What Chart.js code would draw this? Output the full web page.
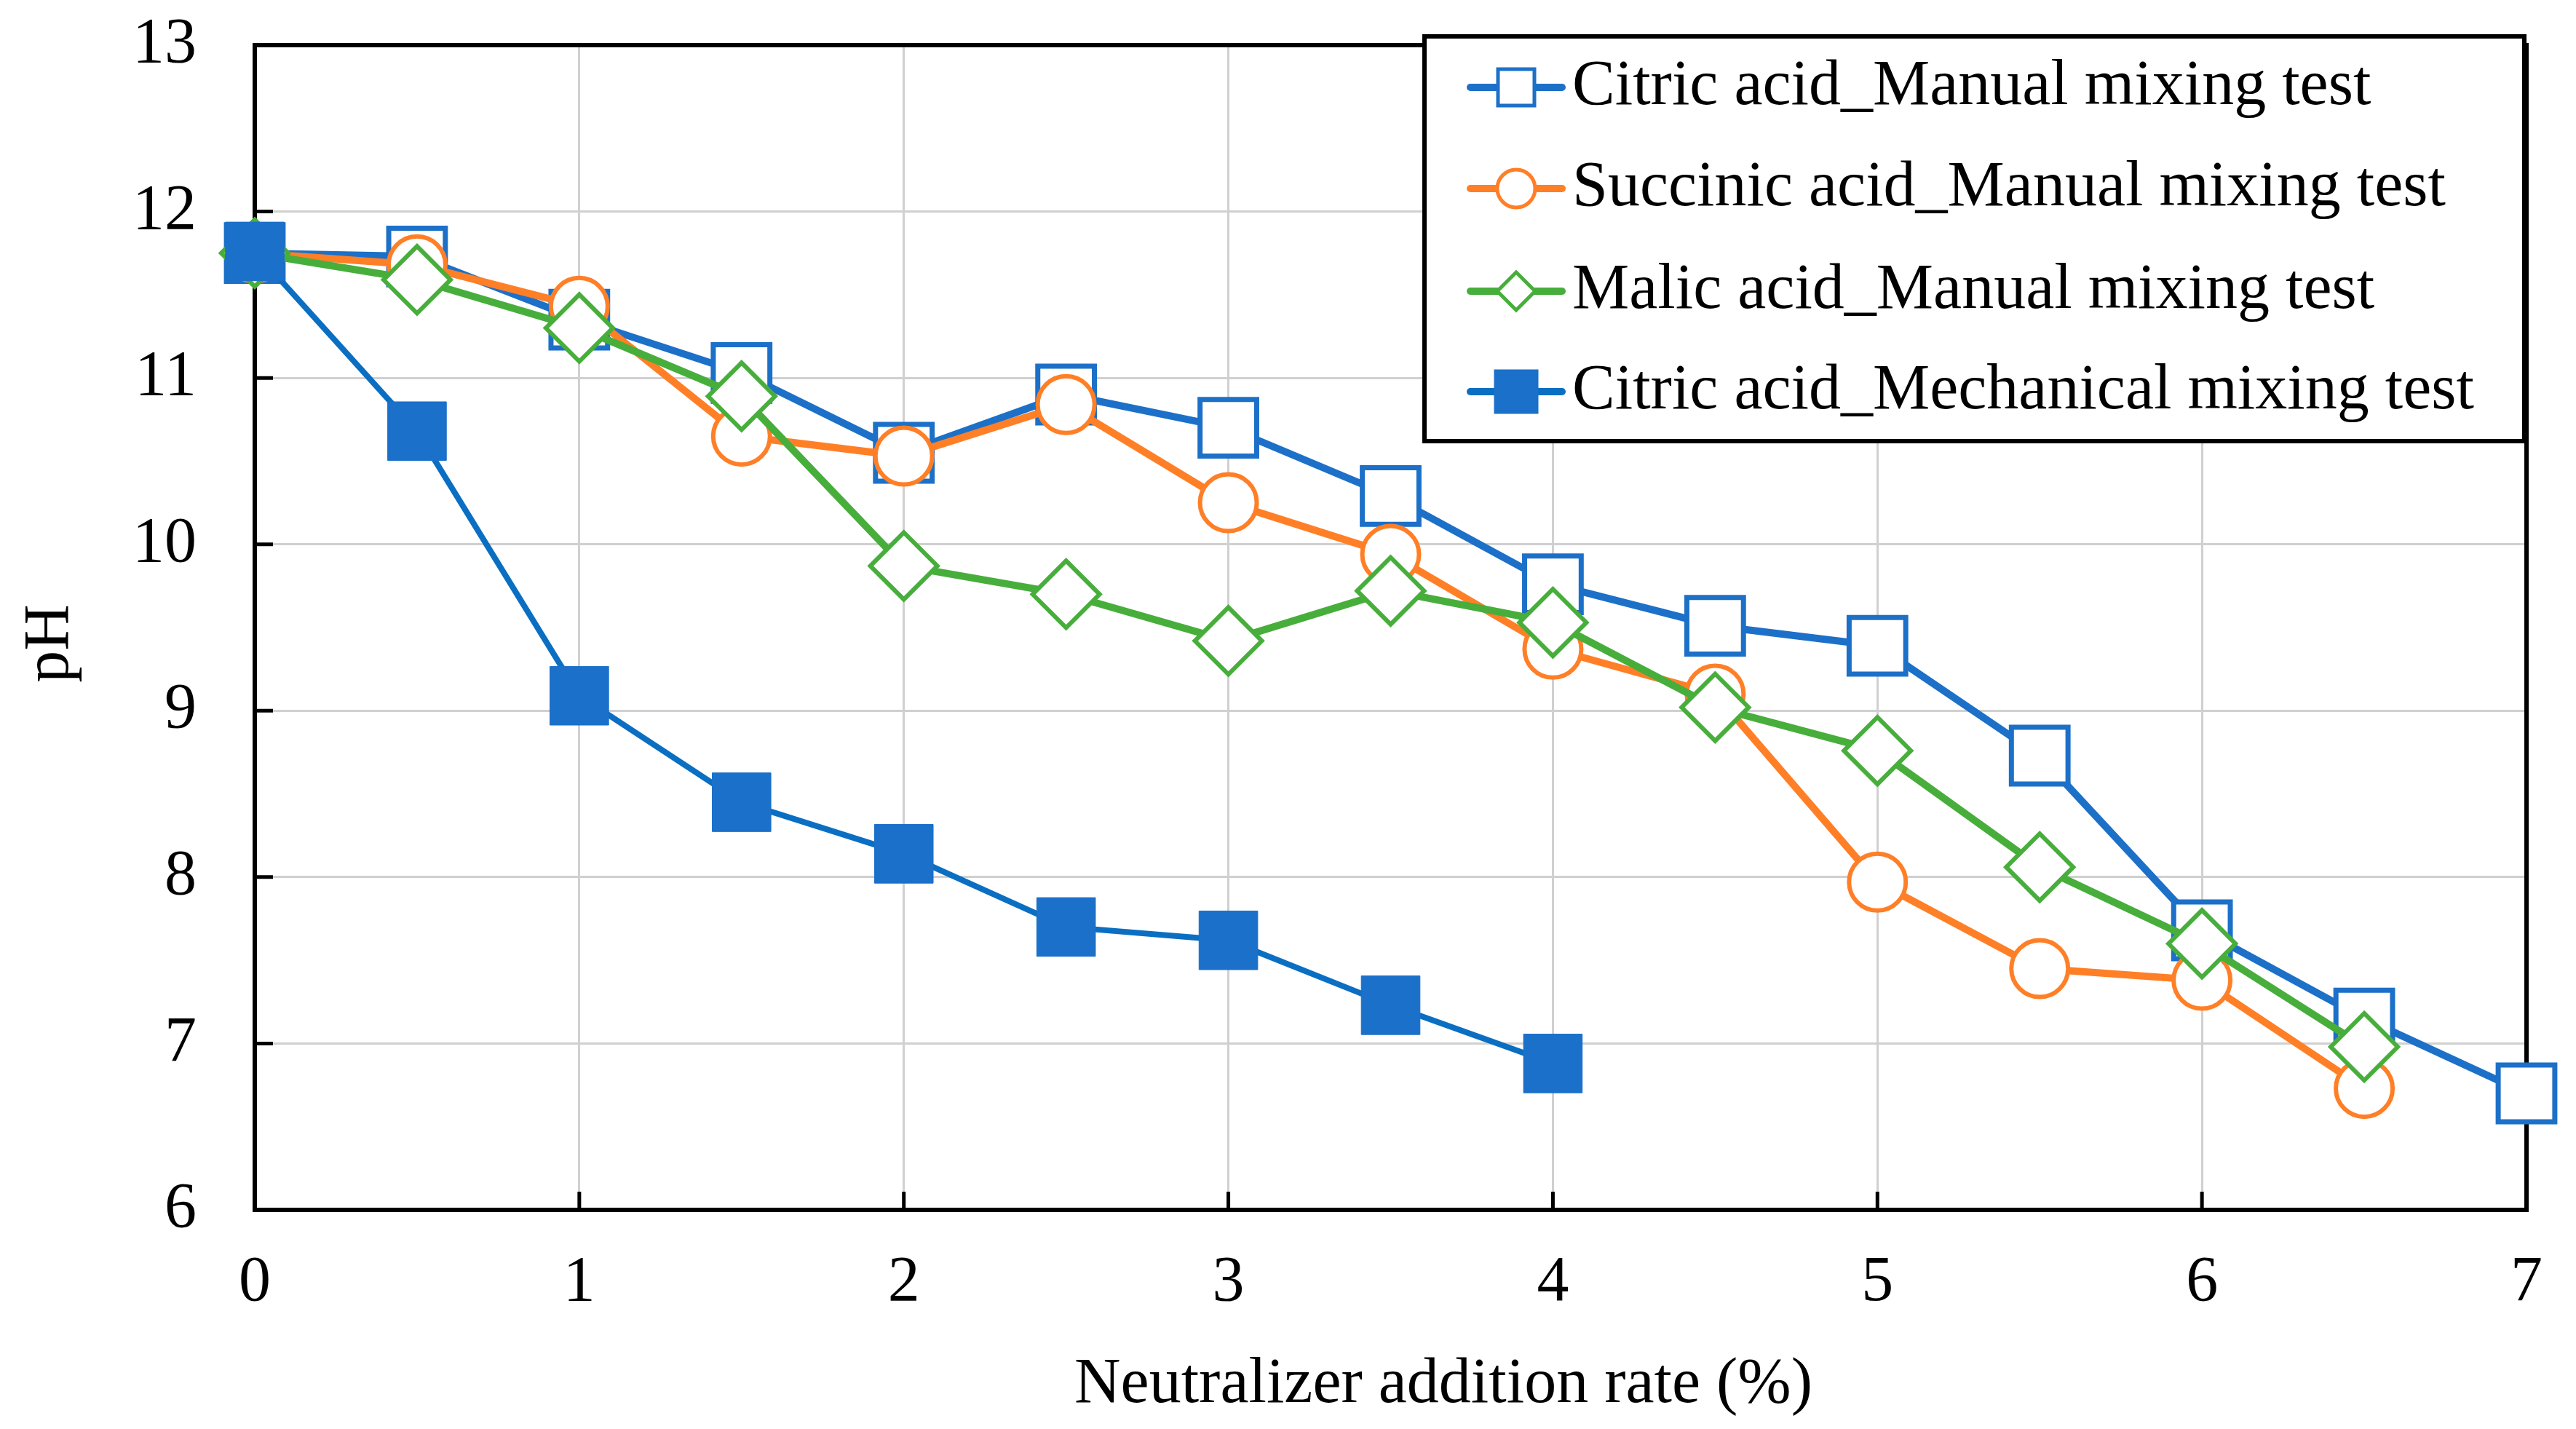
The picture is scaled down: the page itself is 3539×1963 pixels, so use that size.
<!DOCTYPE html>
<html>
<head>
<meta charset="utf-8">
<script src="https://cdn.jsdelivr.net/npm/chart.js@4.4.1/dist/chart.umd.min.js"></script>
<style>
  html, body { margin: 0; padding: 0; background: #fff; }
  #wrap { width: 3539px; height: 1963px; }
</style>
</head>
<body>
<div id="wrap"><canvas id="phChart" width="3539" height="1963"></canvas></div>
<script>
// neutralizer addition rate (%)
const rates = [0, 0.5, 1, 1.5, 2, 2.5, 3, 3.5, 4, 4.5, 5, 5.5, 6, 6.5, 7];
// pH values
const citricManual = [11.75, 11.73, 11.35, 11.03, 10.55, 10.9, 10.7, 10.29, 9.76, 9.51, 9.39, 8.73, 7.68, 7.15, 6.7];
const succinicManual = [11.75, 11.68, 11.43, 10.65, 10.53, 10.84, 10.25, 9.94, 9.37, 9.1, 7.97, 7.45, 7.38, 6.73];
const malicManual = [11.75, 11.59, 11.3, 10.89, 9.87, 9.7, 9.42, 9.72, 9.53, 9.02, 8.76, 8.06, 7.6, 6.98];
const citricMechanical = [11.76, 10.68, 9.09, 8.45, 8.14, 7.7, 7.62, 7.23, 6.88];

const xTicks = [0, 1, 2, 3, 4, 5, 6, 7];
const yTicks = [6, 7, 8, 9, 10, 11, 12, 13];
const seriesNames = [
  'Citric acid_Manual mixing test',
  'Succinic acid_Manual mixing test',
  'Malic acid_Manual mixing test',
  'Citric acid_Mechanical mixing test'
];

const BLUE = '#1c70c8';
const ORANGE = '#ff7f27';
const GREEN = '#47ae3b';
const FONT = "'Liberation Serif', 'Times New Roman', serif";

const toPoints = ys => ys.map((y, i) => ({ x: rates[i], y: y }));

// frame + inward tick marks, drawn under the data
const framePlugin = {
  id: 'frame',
  beforeDatasetsDraw(chart) {
    const { ctx, chartArea: a, scales } = chart;
    ctx.save();
    ctx.strokeStyle = '#000';
    ctx.lineWidth = 5;
    ctx.beginPath();
    yTicks.slice(1, -1).forEach(v => {
      const py = scales.y.getPixelForValue(v);
      ctx.moveTo(a.left, py);
      ctx.lineTo(a.left + 25, py);
    });
    xTicks.slice(1, -1).forEach(v => {
      const px = scales.x.getPixelForValue(v);
      ctx.moveTo(px, a.bottom);
      ctx.lineTo(px, a.bottom - 25);
    });
    ctx.stroke();
    ctx.lineWidth = 6;
    ctx.strokeRect(a.left, a.top, a.right - a.left, a.bottom - a.top);
    ctx.restore();
  }
};

function marker(ctx, style, x, y, r, color, filled) {
  ctx.beginPath();
  if (style === 'circle') {
    ctx.arc(x, y, r, 0, Math.PI * 2);
  } else if (style === 'rectRot') {
    ctx.moveTo(x, y - r);
    ctx.lineTo(x + r, y);
    ctx.lineTo(x, y + r);
    ctx.lineTo(x - r, y);
    ctx.closePath();
  } else {
    ctx.rect(x - r, y - r, 2 * r, 2 * r);
  }
  ctx.fillStyle = filled ? color : '#fff';
  ctx.fill();
  ctx.lineWidth = 5;
  ctx.strokeStyle = color;
  ctx.stroke();
}

// legend box in the upper right corner
const legendPlugin = {
  id: 'boxLegend',
  afterDraw(chart) {
    const ctx = chart.ctx;
    const left = 1957, top = 50, right = 3468, bottom = 606;
    ctx.save();
    ctx.fillStyle = '#fff';
    ctx.fillRect(left, top, right - left, bottom - top);
    ctx.lineWidth = 6;
    ctx.strokeStyle = '#000';
    ctx.strokeRect(left, top, right - left, bottom - top);
    const rows = [
      { style: 'rect', color: BLUE, r: 25, filled: false, line: BLUE },
      { style: 'circle', color: ORANGE, r: 26, filled: false, line: ORANGE },
      { style: 'rectRot', color: GREEN, r: 26, filled: false, line: GREEN },
      { style: 'rect', color: '#1b70c9', r: 28, filled: true, line: '#0a6fc2' }
    ];
    const rowY = [120, 259, 400, 538];
    rows.forEach((row, i) => {
      const y = rowY[i];
      ctx.beginPath();
      ctx.lineCap = 'round';
      ctx.lineWidth = 10;
      ctx.strokeStyle = row.line;
      ctx.moveTo(2020, y);
      ctx.lineTo(2146, y);
      ctx.stroke();
      marker(ctx, row.style, 2083, y, row.r, row.color, row.filled);
      ctx.fillStyle = '#000';
      ctx.font = '88px ' + FONT;
      ctx.textAlign = 'left';
      ctx.textBaseline = 'middle';
      ctx.fillText(seriesNames[i], 2160, y);
    });
    ctx.restore();
  }
};

// axis titles
const titlePlugin = {
  id: 'axisTitles',
  afterDraw(chart) {
    const ctx = chart.ctx;
    ctx.save();
    ctx.fillStyle = '#000';
    ctx.font = '88px ' + FONT;
    ctx.textAlign = 'center';
    ctx.textBaseline = 'middle';
    ctx.fillText('Neutralizer addition rate (%)', 1983, 1903);
    ctx.translate(70, 884);
    ctx.rotate(-Math.PI / 2);
    ctx.fillText('pH', 0, 0);
    ctx.restore();
  }
};

Chart.defaults.font.family = FONT;
Chart.defaults.color = '#000';

new Chart(document.getElementById('phChart'), {
  type: 'line',
  data: {
    datasets: [
      {
        label: seriesNames[0],
        data: toPoints(citricManual),
        borderColor: BLUE,
        borderWidth: 10,
        pointStyle: 'rect',
        pointRadius: 55,
        pointBorderWidth: 7,
        pointBackgroundColor: '#fff',
        pointBorderColor: BLUE,
        order: 4
      },
      {
        label: seriesNames[1],
        data: toPoints(succinicManual),
        borderColor: ORANGE,
        borderWidth: 10,
        pointStyle: 'circle',
        pointRadius: 39,
        pointBorderWidth: 6,
        pointBackgroundColor: '#fff',
        pointBorderColor: ORANGE,
        order: 3
      },
      {
        label: seriesNames[2],
        data: toPoints(malicManual),
        borderColor: GREEN,
        borderWidth: 10,
        pointStyle: 'rectRot',
        pointRadius: 46,
        pointBorderWidth: 6,
        pointBackgroundColor: '#fff',
        pointBorderColor: GREEN,
        order: 2
      },
      {
        label: seriesNames[3],
        data: toPoints(citricMechanical),
        borderColor: '#0a6fc2',
        borderWidth: 8,
        pointStyle: 'rect',
        pointRadius: 57,
        pointBorderWidth: 1,
        pointBackgroundColor: '#1b70c9',
        pointBorderColor: '#1b70c9',
        order: 1
      }
    ]
  },
  options: {
    responsive: false,
    devicePixelRatio: 1,
    animation: false,
    clip: false,
    layout: { padding: { top: 52, right: 68, left: 0, bottom: 0 } },
    plugins: {
      legend: { display: false },
      tooltip: { enabled: false }
    },
    elements: { line: { tension: 0 } },
    scales: {
      x: {
        type: 'linear',
        min: 0,
        max: 7,
        afterBuildTicks: s => { s.ticks = xTicks.map(v => ({ value: v })); },
        afterFit: s => { s.height = 301; s.paddingLeft = 0; s.paddingRight = 0; },
        grid: { color: '#d0d0d0', lineWidth: 3, drawTicks: false },
        border: { display: false },
        ticks: { font: { size: 88 }, color: '#000', padding: 48, maxRotation: 0 }
      },
      y: {
        type: 'linear',
        min: 6,
        max: 13,
        afterBuildTicks: s => { s.ticks = yTicks.map(v => ({ value: v })); },
        afterFit: s => { s.width = 350; s.paddingTop = 0; s.paddingBottom = 0; },
        grid: { color: '#d0d0d0', lineWidth: 3, drawTicks: false },
        border: { display: false },
        ticks: { font: { size: 88 }, color: '#000', padding: 80 }
      }
    }
  },
  plugins: [framePlugin, legendPlugin, titlePlugin]
});
</script>
</body>
</html>
